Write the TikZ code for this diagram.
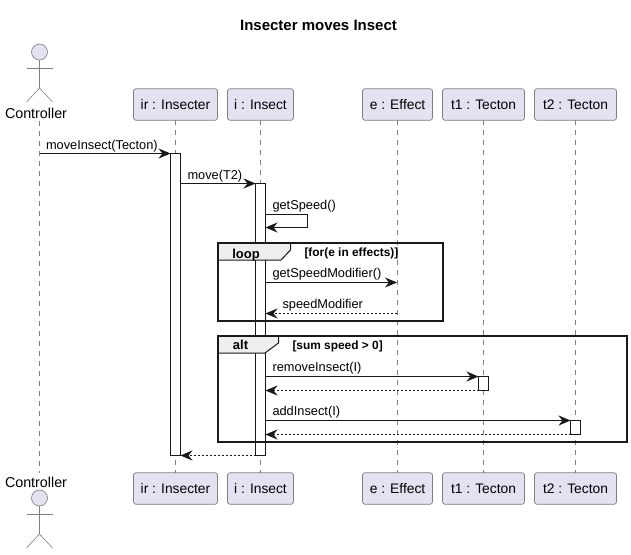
\documentclass[tikz,border=0pt]{standalone}
\usepackage{fontspec}
\setmainfont{Liberation Sans}
\usetikzlibrary{arrows.meta}
\definecolor{partfill}{HTML}{E2E2F0}
\definecolor{partline}{HTML}{7F7F7F}
\definecolor{ink}{HTML}{181818}
\definecolor{framefill}{HTML}{EEEEEE}
\tikzset{
  x=1pt,y=-1pt,
  every node/.style={inner sep=0pt,outer sep=0pt,text=black},
  part/.style={draw=partline,fill=partfill,rounded corners=2.5pt,line width=.7pt,minimum height=31.5pt,text height=11pt,text depth=2pt,font=\fontsize{13.8}{15}\selectfont,anchor=center},
  life/.style={draw=partline,line width=.6pt,dash pattern=on 5pt off 5pt},
  actorline/.style={draw=partline,line width=.6pt},
  actorhead/.style={draw=partline,fill=partfill,line width=.6pt},
  msg/.style={draw=ink,line width=.75pt,-{Stealth[length=12pt,width=10pt,inset=4pt]}},
  ret/.style={msg,dash pattern=on 2pt off 2pt},
  act/.style={draw=ink,fill=white,line width=.8pt},
  fr/.style={draw=black!90,line width=2pt},
  frtab/.style={draw=black!90,fill=framefill,line width=1pt},
  lbl/.style={font=\fontsize{12.8}{14}\selectfont,anchor=base west},
  frname/.style={font=\bfseries\fontsize{13}{14}\selectfont,anchor=base},
  guard/.style={font=\bfseries\fontsize{11.9}{12}\selectfont,anchor=base west},
  ctl/.style={font=\fontsize{14.3}{15}\selectfont,anchor=base},
}
\begin{document}
\begin{tikzpicture}
\useasboundingbox (0,0) rectangle (631,554);
\fill[white] (0,0) rectangle (631,554);
\node[font=\bfseries\fontsize{15}{17}\selectfont,anchor=base] (title) at (318.5,30) {Insecter moves Insect};
% participants
\node[part,minimum width=84pt] (irT) at (175.5,104.5) {ir : Insecter};
\node[part,minimum width=66pt] (iT) at (260.5,104.5) {i : Insect};
\node[part,minimum width=70pt] (eT) at (397.5,104.5) {e : Effect};
\node[part,minimum width=82pt] (t1T) at (483.5,104.5) {t1 : Tecton};
\node[part,minimum width=82pt] (t2T) at (575.5,104.5) {t2 : Tecton};
\node[part,minimum width=84pt] (irB) at (175.5,488.5) {ir : Insecter};
\node[part,minimum width=66pt] (iB) at (260.5,488.5) {i : Insect};
\node[part,minimum width=70pt] (eB) at (397.5,488.5) {e : Effect};
\node[part,minimum width=82pt] (t1B) at (483.5,488.5) {t1 : Tecton};
\node[part,minimum width=82pt] (t2B) at (575.5,488.5) {t2 : Tecton};
\node[ctl] (cT) at (36,118) {Controller};
\node[ctl] (cB) at (36,487) {Controller};
\coordinate (cTl) at (39.5,121);
\coordinate (cBl) at (39.5,473);
% lifelines
\draw[life] (cTl) -- (cBl);
\draw[life] (irT) -- (irB);
\draw[life] (iT) -- (iB);
\draw[life] (eT) -- (eB);
\draw[life] (t1T) -- (t1B);
\draw[life] (t2T) -- (t2B);
% actors
\foreach \y/\n in {44/top,490/bot}{
  \draw[actorhead] (39.5,\y+8) circle (8);
  \draw[actorline] (39.5,\y+16) -- (39.5,\y+44);
  \draw[actorline] (26.5,\y+24) -- (52.5,\y+24);
  \draw[actorline] (26.5,\y+58) -- (39.5,\y+44) -- (52.5,\y+58);
}
% activations (long ones)
\node[act,draw,minimum width=10pt,minimum height=302pt,anchor=north] (aIr) at (175.5,153.5) {};
\node[act,draw,minimum width=10pt,minimum height=272pt,anchor=north] (aI) at (260.5,183.5) {};
% frames
\draw[frtab] (217.5,242.5) -- (290.5,242.5) -- (290.5,250) -- (281,260) -- (217.5,260) -- cycle;
\draw[fr] (217.5,243) rectangle (442.5,321);
\node[frname] (loopL) at (246,258) {loop};
\node[guard] (loopG) at (304.5,256) {[for(e in effects)]};
\draw[frtab] (217.5,335.5) -- (278.5,335.5) -- (278.5,343) -- (265,353) -- (217.5,353) -- cycle;
\draw[fr] (217.5,336) rectangle (626.5,442);
\node[frname] (altL) at (240.5,349.5) {alt};
\node[guard] (altG) at (292.5,349) {[sum speed > 0]};
% small activations
\node[act,draw,minimum width=10pt,minimum height=14pt,anchor=north] (aT1) at (483.5,376.5) {};
\node[act,draw,minimum width=10pt,minimum height=14pt,anchor=north] (aT2) at (575.5,420.5) {};
% messages
\coordinate (c1) at (39.5,153.5);
\draw[msg] (c1) -- (aIr.north west);
\node[lbl] (m1) at (46,149) {moveInsect(Tecton)};
\draw[msg] (aIr.east|-0,183.5) -- (aI.north west);
\node[lbl] (m2) at (187.5,179) {move(T2)};
\coordinate (s1) at (265.5,214.5);
\coordinate (s2) at (307.5,227.5);
\draw[msg] (s1) -| (s2) -- (s2-|aI.east);
\node[lbl] (m3) at (272.5,209) {getSpeed()};
\coordinate (e1) at (397,282.5);
\draw[msg] (e1-|aI.east) -- (e1);
\node[lbl] (m4) at (272.5,277) {getSpeedModifier()};
\coordinate (e2) at (397,313.5);
\draw[ret] (e2) -- (e2-|aI.east);
\node[lbl] (m5) at (282.5,308) {speedModifier};
\draw[msg] (aI.east|-aT1.north west) -- (aT1.north west);
\node[lbl] (m6) at (272.5,371) {removeInsect(I)};
\draw[ret] (aT1.south west) -- (aI.east|-aT1.south west);
\draw[msg] (aI.east|-aT2.north west) -- (aT2.north west);
\node[lbl] (m7) at (272.5,415) {addInsect(I)};
\draw[ret] (aT2.south west) -- (aI.east|-aT2.south west);
\draw[ret] (aI.south west) -- (aIr.south east);
\end{tikzpicture}
\end{document}
